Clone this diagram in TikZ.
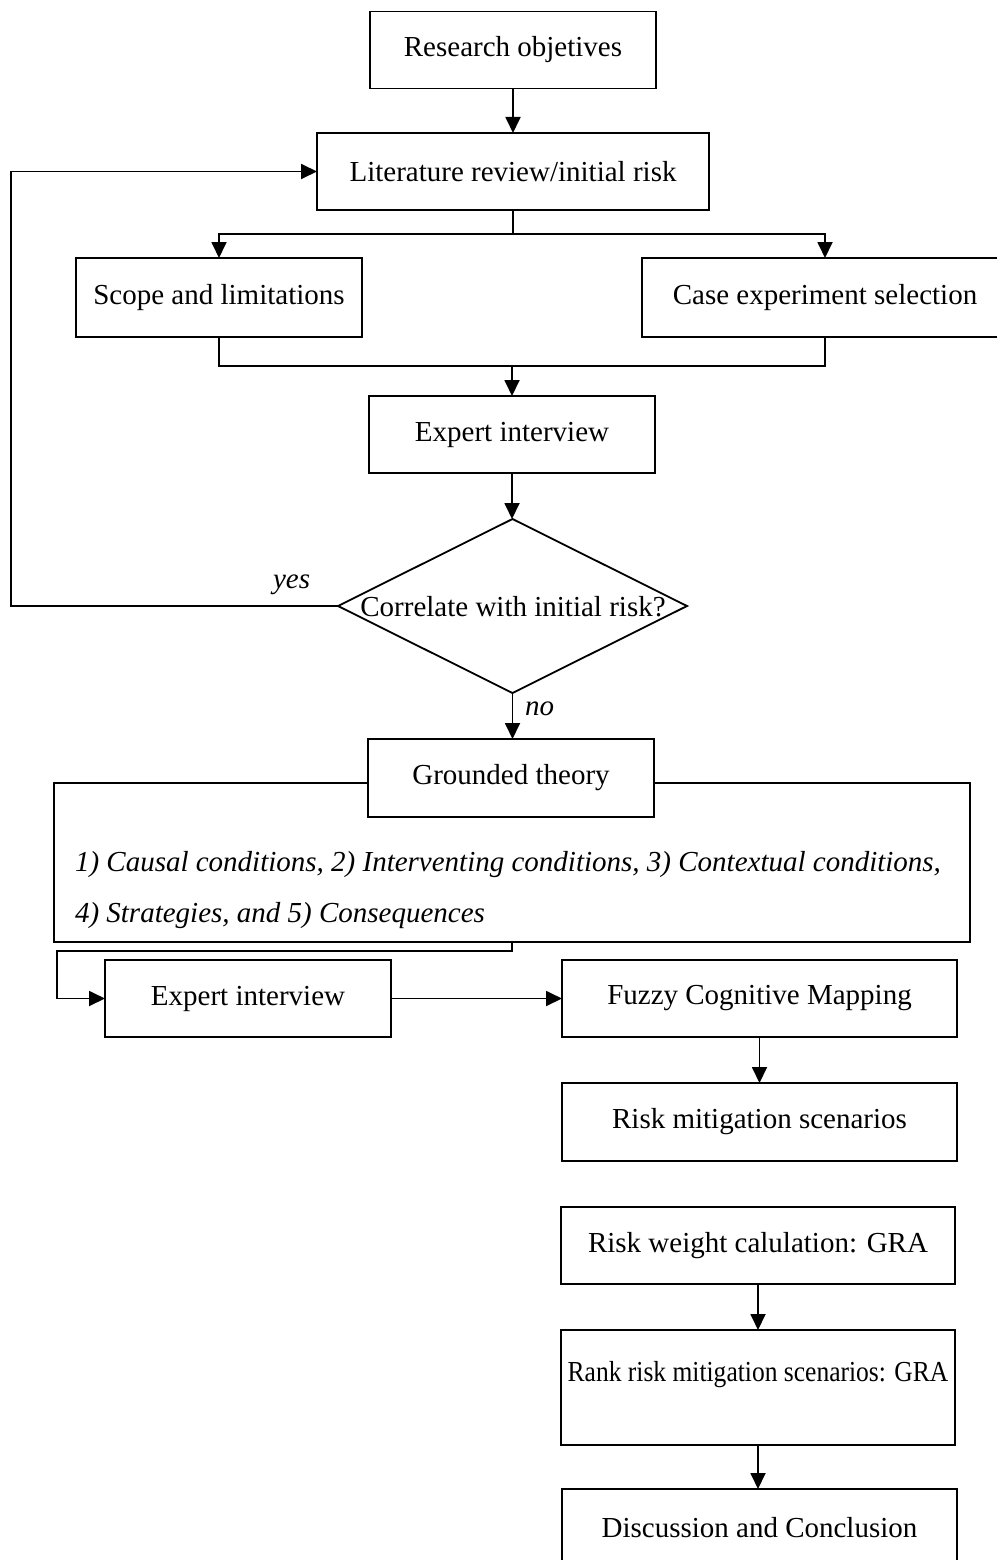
\documentclass[tikz,border=0pt]{standalone}
\usepackage{fontspec}
\setmainfont{Liberation Serif}
\usetikzlibrary{arrows.meta,shapes.geometric}
\begin{document}
\begin{tikzpicture}[x=1pt,y=-1pt,
  every node/.style={font=\fontsize{29}{35}\selectfont},
  boxnode/.style={draw, line width=1.8pt, fill=white, inner sep=0pt, outer sep=0pt, minimum height=77pt},
  conn/.style={line width=1.8pt},
  arr/.style={line width=1.8pt, -{Triangle[length=16pt,width=15pt]}},
  plain/.style={inner sep=0pt, outer sep=0pt}
]
\useasboundingbox (0,0) rectangle (996,1560);

% boxes
\node[boxnode, minimum width=286pt] (res) at (513,50) {Research objetives};
\node[boxnode, minimum width=392pt] (lit) at (513,171.5) {Literature review/initial risk};
\node[boxnode, minimum width=286pt, minimum height=79pt] (scope) at (219,297.5) {Scope and limitations};
\node[boxnode, minimum width=366pt, minimum height=79pt] (case) at (825,297.5) {Case experiment selection};
\node[boxnode, minimum width=286pt] (exp1) at (512,434.5) {Expert interview};

% decision
\node[draw, diamond, line width=1.8pt, inner sep=0pt, outer sep=0pt, minimum width=349pt, minimum height=174pt] (dec) at (512.5,606) {};
\node[plain] (dectext) at (513,607) {Correlate with initial risk?};

% grounded theory
\node[draw, line width=1.8pt, inner sep=0pt, outer sep=0pt, minimum width=916pt, minimum height=159pt] (gtbox) at (512,862.5) {};
\node[boxnode, minimum width=286pt, minimum height=78pt] (gt) at (511,778) {Grounded theory};
\node[plain, anchor=base west, font=\fontsize{29}{35}\selectfont\itshape] (gl1) at (75,871) {1) Causal conditions, 2) Interventing conditions, 3) Contextual conditions,};
\node[plain, anchor=base west, font=\fontsize{29}{35}\selectfont\itshape] (gl2) at (75,922) {4) Strategies, and 5) Consequences};

% lower part
\node[boxnode, minimum width=286pt] (exp2) at (248,998.5) {Expert interview};
\node[boxnode, minimum width=395pt] (fcm) at (759.5,998.5) {Fuzzy Cognitive Mapping};
\node[boxnode, minimum width=395pt, minimum height=78pt] (mit) at (759.5,1122) {Risk mitigation scenarios};
\node[boxnode, minimum width=394pt] (rw) at (758,1245.5) {Risk weight calulation: GRA};
\node[boxnode, minimum width=394pt, minimum height=115pt] (rank) at (758,1387.5) {};
\node[plain] (ranktext) at (758,1375) {\scalebox{0.88}[1]{Rank risk mitigation scenarios: GRA}};
\node[boxnode, minimum width=395pt] (disc) at (759.5,1527.5) {Discussion and Conclusion};

% labels
\node[plain, anchor=base west, font=\fontsize{29}{35}\selectfont\itshape] (yes) at (273,588) {yes};
\node[plain, anchor=base west, font=\fontsize{29}{35}\selectfont\itshape] (no) at (525,715) {no};

% connectors
\coordinate (br) at (513,234);
\coordinate (mg) at (512,366);
\coordinate (fb) at (11,606);
\coordinate (c1) at (512,951);
\coordinate (c2) at (57,951);

\draw[arr] (res.south) -- (lit.north);
\draw[conn] (lit.south) -- (br);
\draw[arr] (br) -| (scope.north);
\draw[arr] (br) -| (case.north);
\draw[conn] (scope.south) |- (mg);
\draw[conn] (case.south) |- (mg);
\draw[arr] (mg) -- (mg |- exp1.north);
\draw[arr] (exp1.south) -- (exp1.south |- dec.north);
\draw[arr] (dec.west) -- (fb) |- (lit.west);
\draw[arr] (dec.south) -- (dec.south |- gt.north);
\draw[arr] (gtbox.south) -- (c1) -- (c2) |- (exp2.west);
\draw[arr] (exp2.east) -- (fcm.west);
\draw[arr] (fcm.south) -- (fcm.south |- mit.north);
\draw[arr] (rw.south) -- (rw.south |- rank.north);
\draw[arr] (rank.south) -- (rank.south |- disc.north);
\end{tikzpicture}
\end{document}
